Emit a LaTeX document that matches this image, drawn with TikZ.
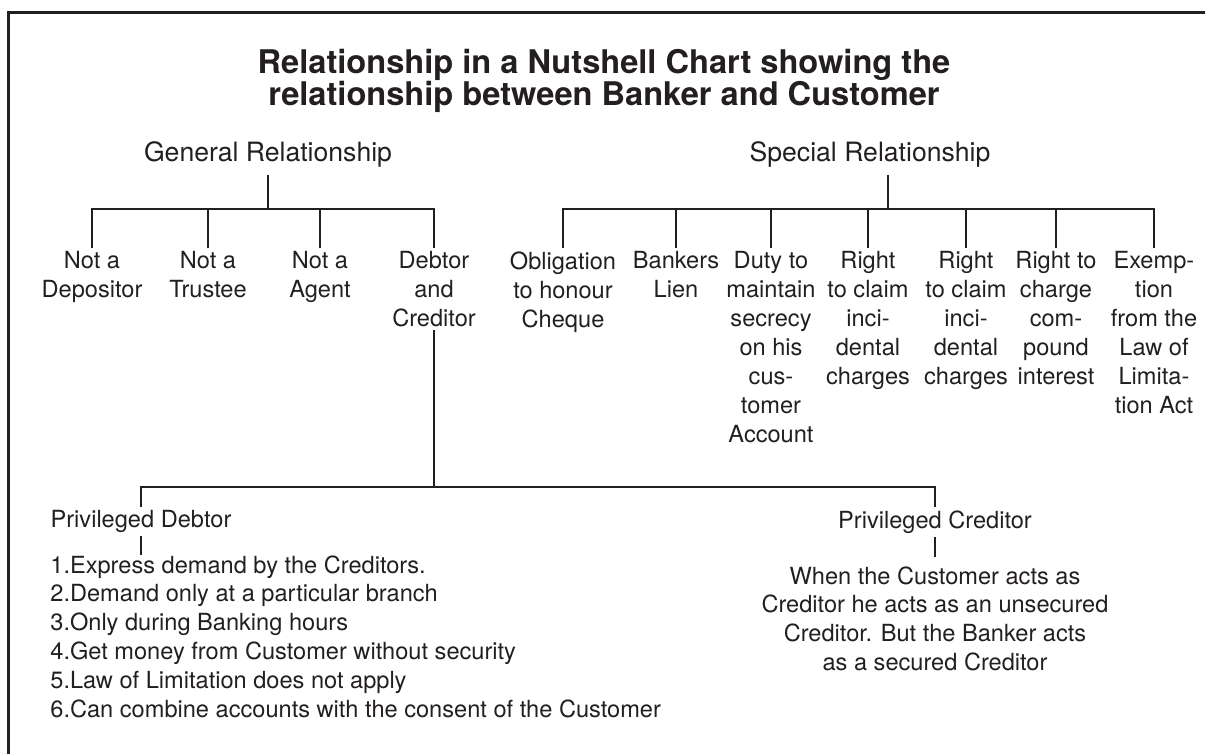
\documentclass[tikz,border=0pt]{standalone}
\usepackage{fontspec}
\setmainfont{TeX Gyre Heros}
\usepackage{tikz}

\definecolor{tinta}{RGB}{35,31,32}

\begin{document}
\begin{tikzpicture}[x=0.5pt,y=-0.5pt,
		titulo/.style={font=\bfseries\fontsize{16.3}{16}\selectfont,align=center,anchor=north,inner sep=0pt,text=tinta},
		rama/.style={font=\fontsize{13.3}{16}\selectfont,anchor=base,text=tinta},
		hoja/.style={font=\fontsize{11.8}{14.5}\selectfont,align=center,anchor=north,inner sep=1.5pt,text=tinta},
		lista/.style={font=\fontsize{11.8}{14.4}\selectfont,align=left,anchor=north west,inner sep=0pt,text=tinta},
		arco/.style={draw=tinta,line width=1.2pt}]
		\useasboundingbox (0,0) rectangle (1205,754);

		%Marco
		\draw[tinta,line width=1.5pt] (8.5,754)--(8.5,13)--(1205,13);

		%Nodos
		\node [titulo] (nodoTitulo) at (604,49) {Relationship in a Nutshell Chart showing the\\relationship between Banker and Customer};
		\node [rama] (nodoGeneral) at (268,162) {General Relationship};
		\node [rama] (nodoSpecial) at (870,162) {Special Relationship};

		\node [hoja] (nodoDepositor) at (92,248) {Not a\\Depositor};
		\node [hoja] (nodoTrustee) at (208,248) {Not a\\Trustee};
		\node [hoja] (nodoAgent) at (320,248) {Not a\\Agent};
		\node [hoja] (nodoDebtor) at (434,248) {Debtor\\and\\Creditor};

		\node [hoja] (nodoCheque) at (563,248) {Obligation\\to honour\\Cheque};
		\node [hoja] (nodoLien) at (676,248) {Bankers\\Lien};
		\node [hoja] (nodoSecrecy) at (771,248) {Duty to\\maintain\\secrecy\\on his\\cus-\\tomer\\Account};
		\node [hoja] (nodoClaimA) at (868,248) {Right\\to claim\\inci-\\dental\\charges};
		\node [hoja] (nodoClaimB) at (966,248) {Right\\to claim\\inci-\\dental\\charges};
		\node [hoja] (nodoInterest) at (1056,248) {Right to\\charge\\com-\\pound\\interest};
		\node [hoja] (nodoExemption) at (1154,248) {Exemp-\\tion\\from the\\Law of\\Limita-\\tion Act};

		\node [hoja] (nodoPrivDebtor) at (141,507) {Privileged Debtor};
		\node [lista] (nodoLista) at (50,555) {1.Express demand by the Creditors.\\2.Demand only at a particular branch\\3.Only during Banking hours\\4.Get money from Customer without security\\5.Law of Limitation does not apply\\6.Can combine accounts with the consent of the Customer};
		\node [hoja] (nodoPrivCreditor) at (935,507) {Privileged Creditor};
		\node [hoja,font=\fontsize{11.8}{14.4}\selectfont,inner sep=4.5pt] (nodoSecured) at (935,557) {When the Customer acts as\\Creditor he acts as an unsecured\\Creditor. But the Banker acts\\as a secured Creditor};

		\coordinate (barGeneral) at (268,209);
		\coordinate (barSpecial) at (888,209);
		\coordinate (barDebtor) at (434,487);

		%Arcos
		\draw[arco] (nodoGeneral)--(barGeneral);
		\draw[arco] (barGeneral)-|(nodoDepositor.north);
		\draw[arco] (barGeneral)-|(nodoTrustee.north);
		\draw[arco] (barGeneral)-|(nodoAgent.north);
		\draw[arco] (barGeneral)-|(nodoDebtor.north);

		\draw[arco] (nodoSpecial.south -| barSpecial)--(barSpecial);
		\draw[arco] (barSpecial)-|(nodoCheque.north);
		\draw[arco] (barSpecial)-|(nodoLien.north);
		\draw[arco] (barSpecial)-|(nodoSecrecy.north);
		\draw[arco] (barSpecial)-|(nodoClaimA.north);
		\draw[arco] (barSpecial)-|(nodoClaimB.north);
		\draw[arco] (barSpecial)-|(nodoInterest.north);
		\draw[arco] (barSpecial)-|(nodoExemption.north);

		\draw[arco] (nodoDebtor)--(barDebtor);
		\draw[arco] (barDebtor)-|(nodoPrivDebtor.north);
		\draw[arco] (barDebtor)-|(nodoPrivCreditor.north);
		\draw[arco] (nodoPrivDebtor.south)--(nodoPrivDebtor.south |- nodoLista.north);
		\draw[arco] (nodoPrivCreditor)--(nodoSecured);
\end{tikzpicture}
\end{document}
